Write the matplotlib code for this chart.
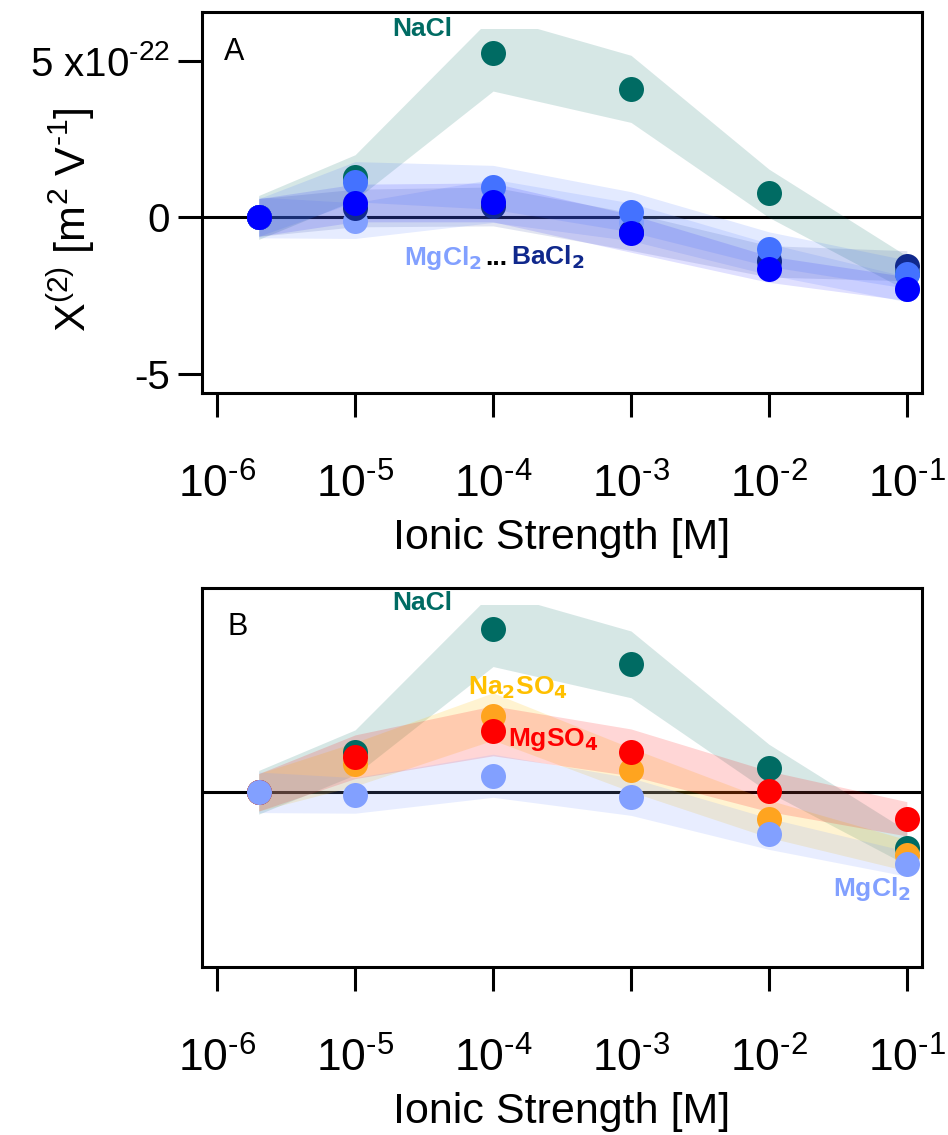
import numpy as np
import matplotlib
matplotlib.use('Agg')
import matplotlib.pyplot as plt
from matplotlib.patches import Rectangle
from matplotlib.mathtext import MathTextParser

plt.rcParams['font.family'] = ['Liberation Sans', 'DejaVu Sans']
plt.rcParams['mathtext.fontset'] = 'custom'
plt.rcParams['mathtext.rm'] = 'Liberation Sans'
plt.rcParams['mathtext.it'] = 'Liberation Sans:italic'
plt.rcParams['mathtext.bf'] = 'Liberation Sans Narrow:bold'


def sup(base, exp):
    # hyphen in the exponent like the original, plain minus if \text is not there
    s = r'%s$^{\text{%s}}$' % (base, exp)
    try:
        MathTextParser('path').parse(r'$^{\text{%s}}$' % exp)
        return s
    except Exception:
        return r'%s$^{%s}$' % (base, exp)


ionic = [2e-6, 1e-5, 1e-4, 1e-3, 1e-2, 1e-1]
xticks = [1e-6, 1e-5, 1e-4, 1e-3, 1e-2, 1e-1]
xtick_labels = [sup('10', '-6'), sup('10', '-5'), sup('10', '-4'),
                sup('10', '-3'), sup('10', '-2'), sup('10', '-1')]

# chi(2) values, units of 1e-22 m^2/V
nacl = [0.0, 1.28, 5.23, 4.10, 0.77, -1.78]
nacl_err = [0.70, 0.72, 1.20, 1.07, 0.77, 0.55]
mgcl2 = [0.0, -0.10, 0.53, -0.14, -1.33, -2.29]
mgcl2_err = [0.65, 0.57, 0.69, 0.60, 0.50, 0.40]
cacl2 = [0.0, 1.14, 0.96, 0.18, -1.01, -1.81]
cacl2_err = [0.60, 0.64, 0.70, 0.64, 0.55, 0.45]
srcl2 = [0.0, 0.46, 0.48, -0.51, -1.65, -2.27]
srcl2_err = [0.60, 0.60, 0.62, 0.60, 0.42, 0.38]
bacl2 = [0.0, 0.30, 0.35, -0.45, -1.40, -1.54]
bacl2_err = [0.60, 0.60, 0.62, 0.60, 0.50, 0.48]
na2so4 = [0.0, 0.90, 2.43, 0.72, -0.85, -2.02]
na2so4_err = [0.60, 0.70, 0.76, 0.70, 0.60, 0.50]
mgso4 = [0.0, 1.14, 1.97, 1.28, 0.03, -0.85]
mgso4_err = [0.60, 0.70, 0.80, 0.75, 0.65, 0.55]

C_NACL = '#006b63'
C_MGCL2 = '#82a0ff'
C_CACL2 = '#4472ff'
C_SRCL2 = '#0000ff'
C_BACL2 = '#10288c'
C_NA2SO4 = '#ffa41f'
C_MGSO4 = '#ff0000'


def series(ax, y, err, color, band_alpha=0.16, band_color=None, clip_top=None):
    y = np.array(y)
    err = np.array(err)
    fb = ax.fill_between(ionic, y - err, y + err, color=band_color or color,
                         alpha=band_alpha, lw=0, zorder=2)
    if clip_top is not None:
        rect = Rectangle((1e-8, -20), 10, 20 + clip_top, transform=ax.transData)
        fb.set_clip_path(rect)
    ax.plot(ionic, y, 'o', color=color, ms=18, mec='none', zorder=3)


def style(ax):
    ax.set_xscale('log')
    ax.set_xlim(10 ** -6.11, 10 ** -0.89)
    ax.set_ylim(-5.6, 6.55)
    ax.axhline(0, color='black', lw=2.2, zorder=1)
    ax.set_xticks(xticks)
    ax.set_xticklabels(xtick_labels)
    ax.minorticks_off()
    ax.tick_params(axis='x', direction='out', length=17, width=2.2, labelsize=32, pad=34)
    for s in ax.spines.values():
        s.set_linewidth(2.2)
    ax.set_xlabel('Ionic Strength [M]', fontsize=31, labelpad=8)


fig = plt.figure(figsize=(9.48, 11.35), dpi=100)
ax1 = fig.add_axes([0.2131, 0.6537, 0.7595, 0.3357])
ax2 = fig.add_axes([0.2131, 0.1480, 0.7595, 0.3340])

# panel A
style(ax1)
series(ax1, nacl, nacl_err, C_NACL, band_alpha=0.16, clip_top=6.0)
series(ax1, mgcl2, mgcl2_err, C_MGCL2, band_alpha=0.2)
series(ax1, bacl2, bacl2_err, C_BACL2, band_alpha=0.12)
series(ax1, cacl2, cacl2_err, C_CACL2, band_alpha=0.15)
series(ax1, srcl2, srcl2_err, C_SRCL2, band_alpha=0.12)
ax1.set_yticks([-5, 0, 5])
ax1.set_yticklabels(['-5', '0', sup('5 x10', '-22')])
ax1.tick_params(axis='y', direction='out', length=17, width=2.2, labelsize=29, pad=6)
ax1.set_ylabel(r'X$^{(2)}$ [m$^{2}$ V$^{\text{-1}}$]' if '\\text' in xtick_labels[0]
               else r'X$^{(2)}$ [m$^{2}$ V$^{-1}$]', fontsize=31)
ax1.yaxis.set_label_coords(-0.146, 0.454)
ax1.text(0.03, 0.895, 'A', transform=ax1.transAxes, fontsize=22, va='center', ha='left')
lab = dict(fontsize=19, fontweight='bold', family=['Liberation Sans Narrow', 'Liberation Sans'],
           va='center')
ax1.text(10 ** -4.51, 6.0, r'NaCl', color=C_NACL, ha='center', **lab)
ax1.text(10 ** -4.08, -1.28, r'MgCl$\mathbf{_2}$', color=C_MGCL2, ha='right', **lab)
ax1.text(10 ** -3.98, -1.28, '...', color='black', ha='center', **lab)
ax1.text(10 ** -3.87, -1.28, r'BaCl$\mathbf{_2}$', color=C_BACL2, ha='left', **lab)

# panel B
style(ax2)
series(ax2, nacl, nacl_err, C_NACL, band_alpha=0.16, clip_top=6.0)
series(ax2, na2so4, na2so4_err, C_NA2SO4, band_alpha=0.18, band_color='#ffc000')
series(ax2, mgso4, mgso4_err, C_MGSO4, band_alpha=0.16)
series(ax2, mgcl2, mgcl2_err, C_MGCL2, band_alpha=0.18)
ax2.set_yticks([])
ax2.text(0.036, 0.897, 'B', transform=ax2.transAxes, fontsize=22, va='center', ha='left')
ax2.text(10 ** -4.51, 6.07, r'NaCl', color=C_NACL, ha='center', **lab)
ax2.text(10 ** -3.82, 3.35, r'Na$\mathbf{_2}$SO$\mathbf{_4}$', color='#ffc000', ha='center', **lab)
ax2.text(10 ** -3.56, 1.69, r'MgSO$\mathbf{_4}$', color=C_MGSO4, ha='center', **lab)
ax2.text(10 ** -1.25, -3.1, r'MgCl$\mathbf{_2}$', color=C_MGCL2, ha='center', **lab)

fig.savefig('out.png', dpi=100)
